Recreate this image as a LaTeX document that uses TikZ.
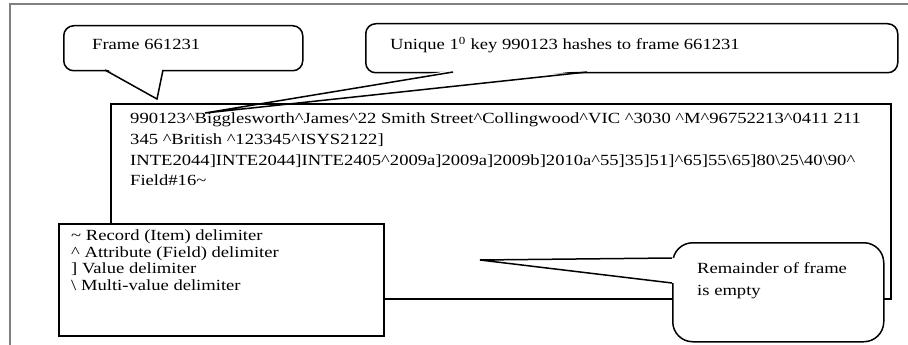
\documentclass[tikz,border=0pt]{standalone}
\usepackage{fontspec}
\setmainfont{Liberation Serif}[FakeStretch=1.2]
\usepackage{xcolor}
\usepackage{tikz}
\usetikzlibrary{positioning}
\definecolor{pagegray}{RGB}{128,128,128}
\newcommand{\attrd}{\textasciicircum}
\newcommand{\multid}{\textbackslash}
\newcommand{\recd}{\textasciitilde}
\tikzset{
  callbox/.style={draw=black, line width=1.5pt, fill=white, rounded corners=10pt, inner sep=0pt, anchor=north west},
  pointer/.style={draw=black, line width=1.5pt},
  recbox/.style={draw=black, line width=1.8pt, inner sep=0pt, anchor=north west},
  legbox/.style={draw=black, line width=1.8pt, fill=white, inner sep=0pt, anchor=north west},
  linetxt/.style={inner sep=0pt, anchor=base west, font=\fontsize{15.5}{18}\selectfont},
  blocktxt/.style={inner sep=0pt, anchor=north west, align=left},
  pageedge/.style={draw=pagegray, line width=1.5pt}
}

\begin{document}
\begin{tikzpicture}[x=1pt,y=-1pt]
  \useasboundingbox (0,0) rectangle (908,345);
  \draw[pageedge] (10,345) -- (10,4) -- (908,4);

  \node[callbox, minimum width=532, minimum height=49] (key) at (365,23) {};
  \coordinate (keyl) at (453,72);
  \coordinate (keyr) at (587,72);
  \coordinate (keytip) at (205,113);
  \fill[white] (453,70) -- (keytip) -- (587,70) -- cycle;
  \draw[pointer] (keyl) -- (keytip) -- (keyr);
  \node[linetxt] (keytext) at (390,50) {Unique 1\textsuperscript{0} key 990123 hashes to frame 661231};

  \node[callbox, minimum width=239, minimum height=45] (frame) at (63,25) {};
  \coordinate (framel) at (105,70);
  \coordinate (framer) at (163,70);
  \coordinate (frametip) at (157,99);
  \fill[white] (105,68) -- (frametip) -- (163,68) -- cycle;
  \draw[pointer] (framel) -- (frametip) -- (framer);
  \node[linetxt] (frametext) at (92,50) {Frame 661231};

  \node[recbox, minimum width=780, minimum height=195] (rec) at (110,103) {};
  \node[blocktxt, font=\fontsize{15.5}{20.6}\selectfont] (rectext) at (130,113)
    {990123\attrd Bigglesworth\attrd James\attrd 22 Smith Street\attrd Collingwood\attrd VIC \attrd 3030 \attrd M\attrd 96752213\attrd 0411 211\\
     345 \attrd British \attrd 123345\attrd ISYS2122]\\
     INTE2044]INTE2044]INTE2405\attrd 2009a]2009a]2009b]2010a\attrd 55]35]51]\attrd 65]55\multid 65]80\multid 25\multid 40\multid 90\attrd\\
     Field\#16\recd};

  \node[legbox, minimum width=325, minimum height=112] (legend) at (58,223) {};
  \node[blocktxt, font=\fontsize{15.5}{16.7}\selectfont] (legendtext) at (71,229.5)
    {\recd{} Record (Item) delimiter\\
     \attrd{} Attribute (Field) delimiter\\
     ] Value delimiter\\
     \multid{} Multi-value delimiter};

  \node[callbox, rounded corners=20pt, minimum width=211, minimum height=99] (rest) at (672,242) {};
  \coordinate (restt) at (672,258);
  \coordinate (restb) at (672,283);
  \coordinate (resttip) at (480,260);
  \fill[white] (674,258) -- (resttip) -- (674,283) -- cycle;
  \draw[pointer] (restt) -- (resttip) -- (restb);
  \node[blocktxt, font=\fontsize{15.5}{22}\selectfont] (resttext) at (697,262)
    {Remainder of frame\\ is empty};
\end{tikzpicture}
\end{document}
